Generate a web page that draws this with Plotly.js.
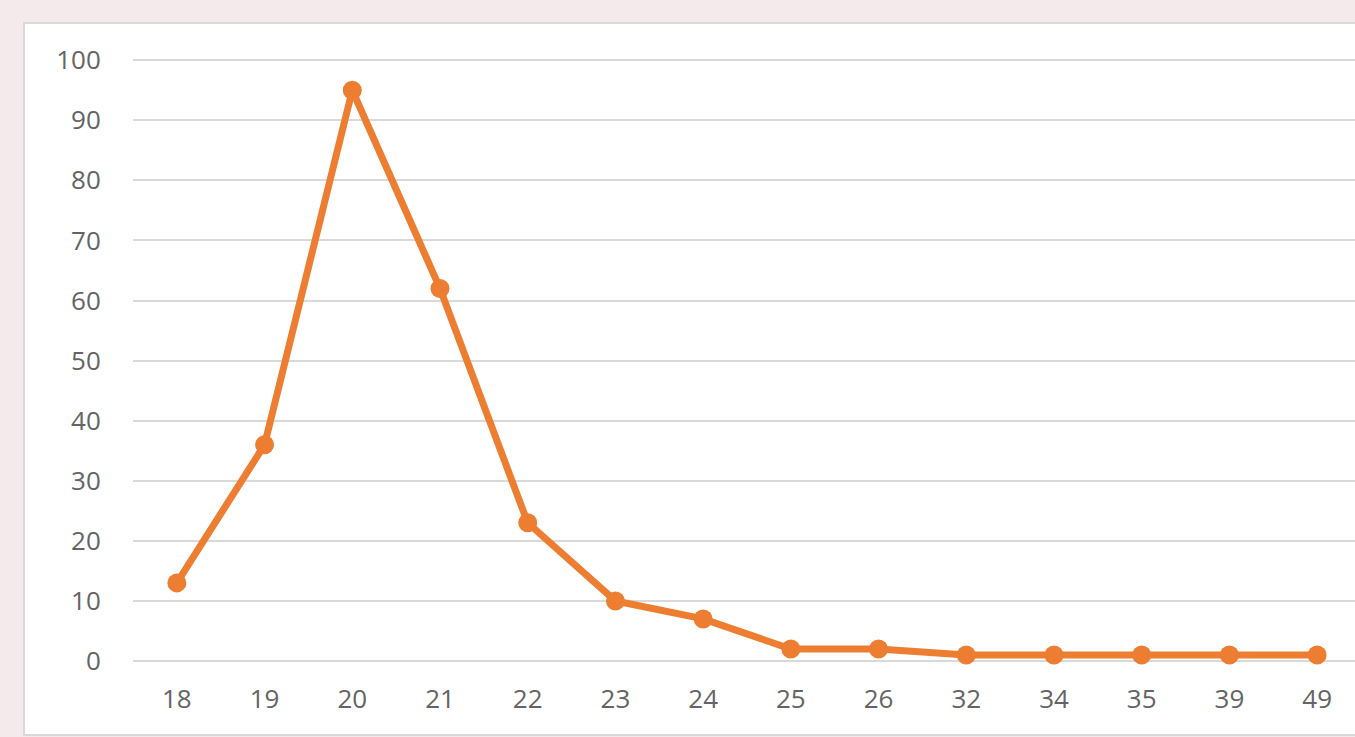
<!DOCTYPE html>
<html>
<head>
<meta charset="utf-8">
<script src="https://cdn.plot.ly/plotly-3.0.1.min.js"></script>
<style>
  html, body { margin: 0; padding: 0; width: 1355px; height: 737px; overflow: hidden; background: #f5eaeb; }
  #box { position: absolute; left: 23px; top: 22px; width: 1400px; height: 710px; border: 2px solid #d9d9d9; background: #ffffff; }
  #chart { width: 1400px; height: 710px; }
</style>
</head>
<body>
<div id="box"><div id="chart"></div></div>
<script>
const categories = ["18","19","20","21","22","23","24","25","26","32","34","35","39","49"];
const values = [13, 36, 95, 62, 23, 10, 7, 2, 2, 1, 1, 1, 1, 1];
const yTicks = [0,10,20,30,40,50,60,70,80,90,100];

const trace = {
  x: categories,
  y: values,
  type: 'scatter',
  mode: 'lines+markers',
  line: { color: '#ed7d31', width: 7 },
  marker: { color: '#ed7d31', size: 19 },
  cliponaxis: false,
  hoverinfo: 'x+y'
};

const layout = {
  width: 1400,
  height: 710,
  margin: { l: 108, r: 64, t: 35, b: 73 },
  paper_bgcolor: '#ffffff',
  plot_bgcolor: '#ffffff',
  showlegend: false,
  font: { family: 'Open Sans, sans-serif', size: 26, color: '#595959' },
  xaxis: {
    type: 'category',
    range: [-0.5, 13.5],
    showgrid: false,
    zeroline: false,
    showline: false,
    ticks: 'outside',
    ticklen: 15,
    tickcolor: 'rgba(0,0,0,0)',
    tickfont: { size: 26, color: '#646464' }
  },
  yaxis: {
    range: [0, 100.2],
    tickvals: yTicks,
    ticktext: yTicks.map(String),
    showgrid: true,
    gridcolor: '#d9d9d9',
    gridwidth: 2,
    zeroline: true,
    zerolinecolor: '#d9d9d9',
    zerolinewidth: 2,
    showline: false,
    ticks: 'outside',
    ticklen: 26,
    tickcolor: 'rgba(0,0,0,0)',
    tickfont: { size: 26, color: '#646464' }
  }
};

Plotly.newPlot('chart', [trace], layout, { displayModeBar: false, staticPlot: true });
</script>
</body>
</html>
